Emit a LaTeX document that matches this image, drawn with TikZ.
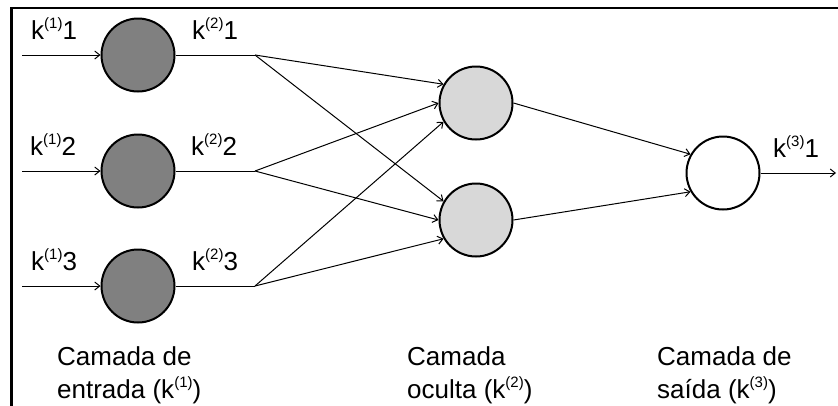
\documentclass[tikz,border=0pt]{standalone}
\usepackage{fontspec}
\setmainfont{Liberation Sans}
\usetikzlibrary{arrows.meta}
\definecolor{incol}{RGB}{128,128,128}
\definecolor{hidcol}{RGB}{216,216,216}
\newcommand\kup[1]{\raisebox{11bp}{\fontsize{15bp}{15bp}\selectfont(#1)}}
\begin{document}
\begin{tikzpicture}[x=1bp,y=-1bp,
  neuron/.style={circle,draw=black,line width=2bp,minimum size=73bp,inner sep=0pt},
  inneuron/.style={neuron,fill=incol},
  hidneuron/.style={neuron,fill=hidcol},
  outneuron/.style={neuron,fill=white},
  wire/.style={line width=1bp},
  conn/.style={wire,-{Straight Barb[length=5bp,width=8bp,line width=1bp]}},
  lbl/.style={font=\fontsize{26bp}{30bp}\selectfont,anchor=base west,inner sep=0pt},
  frame/.style={line width=2.5bp,line cap=rect}]
\useasboundingbox (0,0) rectangle (838,405);
% frame
\coordinate (fb) at (11.3,405);
\coordinate (fc) at (11.3,7.8);
\coordinate (fr) at (838,7.8);
\draw[frame] (fb) -- (fc) -- (fr);
% neurons
\node[inneuron] (i1) at (138,55) {};
\node[inneuron] (i2) at (138,171) {};
\node[inneuron] (i3) at (138,286) {};
\node[hidneuron] (h1) at (476,103) {};
\node[hidneuron] (h2) at (476,220) {};
\node[outneuron] (o1) at (723,173) {};
% input ends and branch points
\coordinate (s1) at (22,55);
\coordinate (s2) at (22,171);
\coordinate (s3) at (22,286);
\coordinate (b1) at (255,55);
\coordinate (b2) at (255,171);
\coordinate (b3) at (255,286);
\coordinate (e1) at (836,173);
% connectors
\draw[conn] (s1) -- (i1.west);
\draw[conn] (s2) -- (i2.west);
\draw[conn] (s3) -- (i3.west);
\draw[wire] (i1.east) -- (b1);
\draw[wire] (i2.east) -- (b2);
\draw[wire] (i3.east) -- (b3);
\draw[conn] (b1) -- (h1.150);
\draw[conn] (b2) -- (h1.180);
\draw[conn] (b3) -- (h1.210);
\draw[conn] (b1) -- (h2.150);
\draw[conn] (b2) -- (h2.180);
\draw[conn] (b3) -- (h2.210);
\draw[conn] (h1.east) -- (o1.150);
\draw[conn] (h2.east) -- (o1.210);
\draw[conn] (o1.east) -- (e1);
% labels
\node[lbl] (l11) at (31,39) {k\kup{1}1};
\node[lbl] (l12) at (30,155) {k\kup{1}2};
\node[lbl] (l13) at (31,270) {k\kup{1}3};
\node[lbl] (l21) at (192,39) {k\kup{2}1};
\node[lbl] (l22) at (191,155) {k\kup{2}2};
\node[lbl] (l23) at (192,270) {k\kup{2}3};
\node[lbl] (l31) at (773,157) {k\kup{3}1};
\node[lbl] (c1a) at (57,365) {Camada de};
\node[lbl] (c1b) at (57,398) {entrada (k\kup{1})};
\node[lbl] (c2a) at (407,365) {Camada};
\node[lbl] (c2b) at (407,398) {oculta (k\kup{2})};
\node[lbl] (c3a) at (657,365) {Camada de};
\node[lbl] (c3b) at (657,398) {saída (k\kup{3})};
\end{tikzpicture}
\end{document}
